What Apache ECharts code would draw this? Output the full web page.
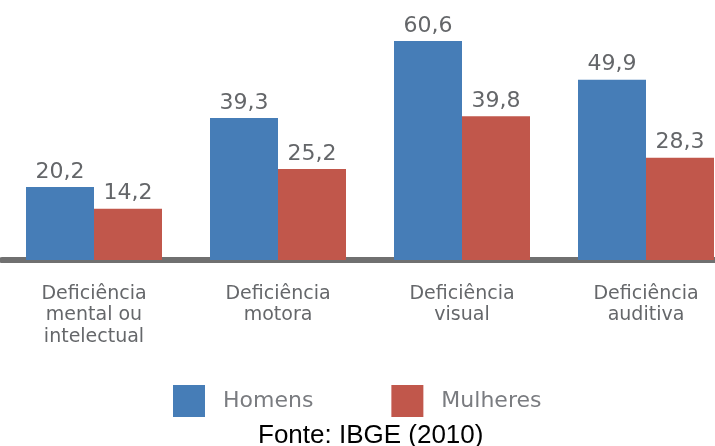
<!DOCTYPE html>
<html>
<head>
<meta charset="utf-8">
<script src="https://cdn.jsdelivr.net/npm/echarts@6/dist/echarts.min.js"></script>
<style>
  html, body { margin: 0; padding: 0; background: #fff; }
  #chart { width: 715px; height: 446px; }
</style>
</head>
<body>
<div id="chart"></div>
<script>
    // categorias e valores (%)
    let categorias = ['Deficiência\nmental ou\nintelectual', 'Deficiência\nmotora', 'Deficiência\nvisual', 'Deficiência\nauditiva'];
    let homens = [20.2, 39.3, 60.6, 49.9];
    let mulheres = [14.2, 25.2, 39.8, 28.3];
    let fonte = 'Fonte: IBGE (2010)';

    let myChart = echarts.init(document.getElementById('chart'));

    let valorLabel = {
        show: true,
        position: 'top',
        distance: 4,
        color: '#646669',
        fontFamily: 'DejaVu Sans',
        fontSize: 22,
        formatter: function (p) {
            return String(p.value).replace('.', ',');
        }
    };

    let option = {
        animation: false,
        title: {
            text: fonte,
            left: 253,
            top: 418,
            textStyle: {
                color: '#000',
                fontFamily: 'Liberation Sans',
                fontSize: 26,
                fontWeight: 'normal'
            }
        },
        legend: {
            left: 168,
            top: 380,
            icon: 'rect',
            itemWidth: 32,
            itemHeight: 32,
            itemGap: 78,
            textStyle: {
                color: '#7a7c80',
                fontFamily: 'DejaVu Sans',
                fontSize: 22,
                padding: [0, 0, 0, 13]
            },
            data: ['Homens', 'Mulheres']
        },
        grid: {
            left: 2,
            right: -23,
            top: 7,
            bottom: 186,
            outerBoundsMode: 'none'
        },
        xAxis: {
            type: 'category',
            data: categorias,
            offset: 3,
            axisLine: {
                lineStyle: { color: '#707070', width: 6 }
            },
            axisTick: { show: false },
            axisLabel: {
                margin: 20,
                color: '#65676a',
                fontFamily: 'DejaVu Sans',
                fontSize: 19,
                lineHeight: 21.5
            }
        },
        yAxis: {
            type: 'value',
            min: 0,
            max: 70,
            show: false,
            splitLine: { show: false }
        },
        series: [
            {
                name: 'Homens',
                type: 'bar',
                data: homens,
                barWidth: 68,
                barGap: '0%',
                itemStyle: { color: '#467db7' },
                label: valorLabel
            },
            {
                name: 'Mulheres',
                type: 'bar',
                data: mulheres,
                barWidth: 68,
                itemStyle: { color: '#c1574b' },
                label: valorLabel
            }
        ]
    };

    myChart.setOption(option);
</script>
</body>
</html>
